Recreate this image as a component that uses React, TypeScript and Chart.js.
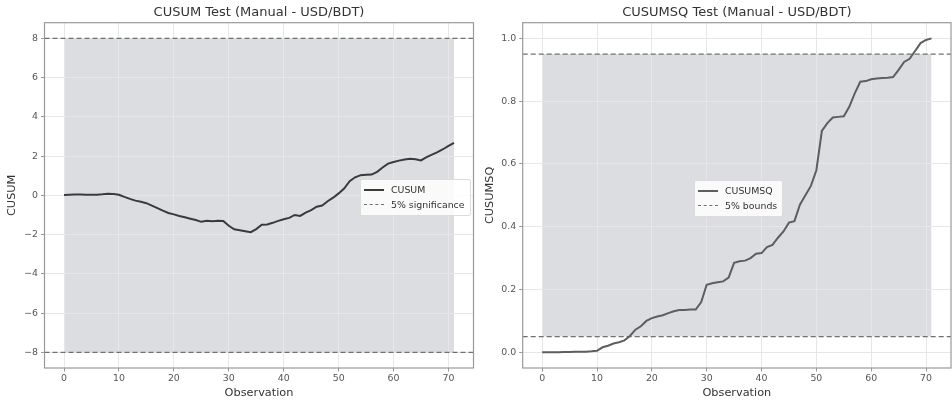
import React, { useEffect, useRef } from "react";
import { Chart, registerables } from "chart.js";
Chart.register(...registerables);

const FONT = "'DejaVu Sans', sans-serif";

const observations = [
  0, 1, 2, 3, 4, 5, 6, 7, 8, 9, 10, 11, 12, 13, 14, 15, 16, 17, 18, 19, 20, 21, 22, 23,
  24, 25, 26, 27, 28, 29, 30, 31, 32, 33, 34, 35, 36, 37, 38, 39, 40, 41, 42, 43, 44, 45, 46, 47,
  48, 49, 50, 51, 52, 53, 54, 55, 56, 57, 58, 59, 60, 61, 62, 63, 64, 65, 66, 67, 68, 69, 70, 71,
];

const cusumValues = [
  0.02, 0.03, 0.04, 0.04, 0.03, 0.03, 0.03, 0.05, 0.08, 0.07, 0.03, -0.08,
  -0.18, -0.27, -0.33, -0.4, -0.52, -0.65, -0.78, -0.9, -0.97, -1.05, -1.12, -1.19,
  -1.26, -1.35, -1.3, -1.32, -1.3, -1.31, -1.55, -1.73, -1.78, -1.83, -1.88, -1.72,
  -1.5, -1.48, -1.4, -1.3, -1.22, -1.15, -1.0, -1.05, -0.88, -0.75, -0.58, -0.52,
  -0.3, -0.12, 0.1, 0.35, 0.72, 0.92, 1.03, 1.05, 1.06, 1.2, 1.42, 1.62,
  1.7, 1.77, 1.83, 1.86, 1.84, 1.78, 1.95, 2.08, 2.2, 2.35, 2.52, 2.68,
];

const cusumsqValues = [
  0, 0, 0, 0.0005, 0.001, 0.001, 0.0015, 0.002, 0.002, 0.003, 0.005, 0.016,
  0.021, 0.028, 0.032, 0.038, 0.052, 0.072, 0.083, 0.1, 0.109, 0.114, 0.118, 0.125,
  0.131, 0.135, 0.135, 0.136, 0.136, 0.16, 0.215, 0.22, 0.223, 0.226, 0.238, 0.285,
  0.29, 0.292, 0.3, 0.314, 0.316, 0.335, 0.342, 0.365, 0.385, 0.413, 0.418, 0.47,
  0.5, 0.53, 0.58, 0.705, 0.73, 0.748, 0.75, 0.752, 0.782, 0.825, 0.862, 0.864,
  0.87, 0.872, 0.874, 0.875, 0.877, 0.9, 0.925, 0.935, 0.96, 0.985, 0.995, 1.0,
];

const cusumBound = 8;
const cusumsqLower = 0.05;
const cusumsqUpper = 0.95;

const xTicks = [0, 10, 20, 30, 40, 50, 60, 70];
const cusumYTicks = [-8, -6, -4, -2, 0, 2, 4, 6, 8];
const cusumsqYTicks = [0, 0.2, 0.4, 0.6, 0.8, 1.0];

const xMin = -3.55;
const xMax = 74.55;
const cusumYMin = -8.8;
const cusumYMax = 8.8;
const cusumsqYMin = -0.05;
const cusumsqYMax = 1.05;

const SHADE = "rgba(120,124,140,0.26)";
const GRID = "#e7e7e8";
const TICK_COLOR = "#555";
const TEXT_COLOR = "#333";

const framePlugin = {
  id: "frame",
  afterDraw(chart: any) {
    const { ctx, chartArea } = chart;
    const { left, top, right, bottom } = chartArea;
    ctx.save();
    ctx.strokeStyle = "#999";
    ctx.lineWidth = 1.2;
    ctx.strokeRect(left, top, right - left, bottom - top);
    ctx.restore();
  },
};

function minusFmt(v: number) {
  return String(v).replace("-", "\u2212");
}

function makeConfig(opts: {
  title: string;
  yTitle: string;
  values: number[];
  lineColor: string;
  lower: number;
  upper: number;
  yMin: number;
  yMax: number;
  yTicks: number[];
  yFmt: (v: number) => string;
  yWidth: number;
  rightPad: number;
  titleOffset: number;
}) {
  const first = observations[0];
  const last = observations[observations.length - 1];
  return {
    type: "line" as const,
    data: {
      datasets: [
        {
          label: "band-upper",
          data: [
            { x: first, y: opts.upper },
            { x: last, y: opts.upper },
          ],
          borderWidth: 0,
          borderColor: "rgba(0,0,0,0)",
          pointRadius: 0,
          backgroundColor: SHADE,
          fill: "+1",
          order: 10,
        },
        {
          label: "band-lower",
          data: [
            { x: first, y: opts.lower },
            { x: last, y: opts.lower },
          ],
          borderWidth: 0,
          borderColor: "rgba(0,0,0,0)",
          pointRadius: 0,
          fill: false,
          order: 11,
        },
        {
          label: "upper bound",
          data: [
            { x: xMin, y: opts.upper },
            { x: xMax, y: opts.upper },
          ],
          borderColor: "#6f6f6f",
          borderWidth: 1.3,
          borderDash: [5, 3],
          pointRadius: 0,
          fill: false,
          order: 5,
        },
        {
          label: "lower bound",
          data: [
            { x: xMin, y: opts.lower },
            { x: xMax, y: opts.lower },
          ],
          borderColor: "#6f6f6f",
          borderWidth: 1.3,
          borderDash: [5, 3],
          pointRadius: 0,
          fill: false,
          order: 5,
        },
        {
          label: opts.yTitle,
          data: observations.map((x, i) => ({ x, y: opts.values[i] })),
          borderColor: opts.lineColor,
          borderWidth: 2,
          pointRadius: 0,
          tension: 0,
          fill: false,
          order: 1,
        },
      ],
    },
    options: {
      responsive: false,
      animation: false,
      events: [],
      layout: { padding: { left: 0, right: opts.rightPad, top: 0, bottom: 0 } },
      plugins: {
        legend: { display: false },
        tooltip: { enabled: false },
        filler: { drawTime: "beforeDraw" as const },
        title: {
          display: true,
          text: opts.title,
          fullSize: false,
          color: TEXT_COLOR,
          font: { family: FONT, size: 13, weight: "normal" as const },
          padding: { top: 5, bottom: 2.1 },
        },
      },
      scales: {
        x: {
          type: "linear" as const,
          min: xMin,
          max: xMax,
          afterBuildTicks: (s: any) => {
            s.ticks = xTicks.map((v) => ({ value: v }));
          },
          afterFit: (s: any) => {
            s.height = 38;
          },
          ticks: {
            color: TICK_COLOR,
            font: { family: FONT, size: 9.4 },
            padding: 1,
            maxRotation: 0,
            autoSkip: false,
            callback: (v: any) => minusFmt(v),
          },
          grid: { color: GRID, tickColor: "#999", tickLength: 3.5, lineWidth: 1 },
          border: { display: false },
          title: {
            display: true,
            text: "Observation",
            color: TEXT_COLOR,
            font: { family: FONT, size: 11.3 },
            padding: { top: 0, bottom: 6.2 },
          },
        },
        y: {
          type: "linear" as const,
          min: opts.yMin,
          max: opts.yMax,
          afterBuildTicks: (s: any) => {
            s.ticks = opts.yTicks.map((v) => ({ value: v }));
          },
          afterFit: (s: any) => {
            s.width = opts.yWidth;
          },
          ticks: {
            color: TICK_COLOR,
            font: { family: FONT, size: 9.4 },
            padding: 3,
            autoSkip: false,
            callback: (v: any) => opts.yFmt(v),
          },
          grid: { color: GRID, tickColor: "#999", tickLength: 3.5, lineWidth: 1 },
          border: { display: false },
          title: {
            display: true,
            text: opts.yTitle,
            color: TEXT_COLOR,
            font: { family: FONT, size: 11.3 },
            padding: { top: opts.titleOffset, bottom: 0 },
          },
        },
      },
    },
    plugins: [framePlugin],
  };
}

function ChartCanvas({ config, left }: { config: any; left: number }) {
  const ref = useRef<HTMLCanvasElement | null>(null);
  useEffect(() => {
    if (!ref.current) return;
    const chart = new Chart(ref.current, config);
    return () => chart.destroy();
  }, [config]);
  return (
    <canvas
      ref={ref}
      width={476}
      height={406}
      style={{ position: "absolute", left, top: 0, width: 476, height: 406 }}
    />
  );
}

function Legend({
  left,
  top,
  items,
}: {
  left: number;
  top: number;
  items: { label: string; color: string; dashed: boolean }[];
}) {
  return (
    <div
      style={{
        position: "absolute",
        left,
        top,
        padding: "3px 5px 3px 3px",
        background: "rgba(255,255,255,0.85)",
        border: "1px solid #dcdcdc",
        borderRadius: 2,
        fontFamily: FONT,
        fontSize: 9.4,
        color: TEXT_COLOR,
        lineHeight: "14.5px",
      }}
    >
      {items.map((it) => (
        <div key={it.label} style={{ display: "flex", alignItems: "center", whiteSpace: "nowrap" }}>
          <span
            style={{
              display: "inline-block",
              width: 20,
              height: 0,
              borderTop: it.dashed ? `1.5px dashed ${it.color}` : `2px solid ${it.color}`,
              marginRight: 7,
            }}
          />
          <span>{it.label}</span>
        </div>
      ))}
    </div>
  );
}

const leftConfig = makeConfig({
  title: "CUSUM Test (Manual - USD/BDT)",
  yTitle: "CUSUM",
  values: cusumValues,
  lineColor: "#3a3a3a",
  lower: -cusumBound,
  upper: cusumBound,
  yMin: cusumYMin,
  yMax: cusumYMax,
  yTicks: cusumYTicks,
  yFmt: (v) => minusFmt(v),
  yWidth: 44.5,
  rightPad: 2.5,
  titleOffset: 5.2,
});

const rightConfig = makeConfig({
  title: "CUSUMSQ Test (Manual - USD/BDT)",
  yTitle: "CUSUMSQ",
  values: cusumsqValues,
  lineColor: "#5e5e5e",
  lower: cusumsqLower,
  upper: cusumsqUpper,
  yMin: cusumsqYMin,
  yMax: cusumsqYMax,
  yTicks: cusumsqYTicks,
  yFmt: (v) => Number(v).toFixed(1),
  yWidth: 46.7,
  rightPad: 1,
  titleOffset: 7.2,
});

export default function App() {
  return (
    <div
      style={{
        position: "fixed",
        left: 0,
        top: 0,
        width: 952,
        height: 406,
        background: "#fff",
        overflow: "hidden",
      }}
    >
      <ChartCanvas config={leftConfig} left={0} />
      <ChartCanvas config={rightConfig} left={476} />
      <Legend
        left={360}
        top={179}
        items={[
          { label: "CUSUM", color: "#3a3a3a", dashed: false },
          { label: "5% significance", color: "#6f6f6f", dashed: true },
        ]}
      />
      <Legend
        left={694}
        top={180}
        items={[
          { label: "CUSUMSQ", color: "#5e5e5e", dashed: false },
          { label: "5% bounds", color: "#6f6f6f", dashed: true },
        ]}
      />
    </div>
  );
}
